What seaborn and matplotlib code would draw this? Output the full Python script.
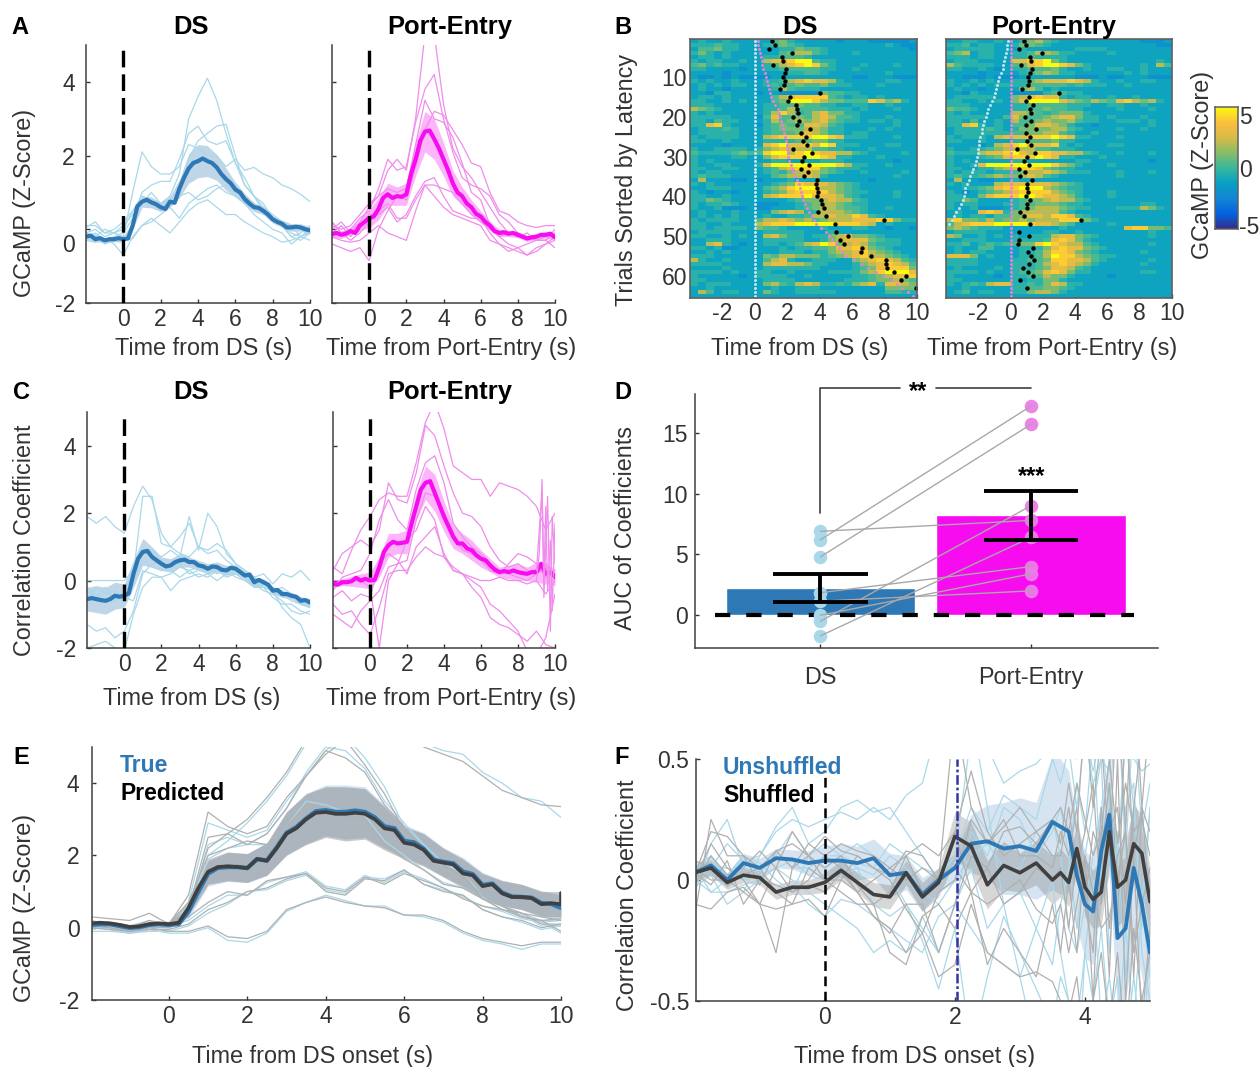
import numpy as np
import pandas as pd
import seaborn as sns
import matplotlib
matplotlib.use("Agg")
import matplotlib.pyplot as plt
from matplotlib.colors import LinearSegmentedColormap
from matplotlib.transforms import ScaledTranslation

# ---- data ----
T_GRID = [-2, -1.5, -1, -.5, 0, .5, 1, 1.5, 2, 2.5, 3, 3.5, 4, 4.5, 5, 5.5, 6, 6.5, 7, 7.5, 8, 8.5, 9, 9.5, 10]
T_FINE = np.arange(-2, 10.01, .25)

# panel A
A_DS_MEAN = [-.2, -.27, -.3, -.27, -.27, .1, .75, .73, .6, .75, 1.1, 1.65, 1.85, 1.85, 1.68, 1.36, 1.08, .82, .6, .5, .27, .15, .05, .05, -.03]
A_DS_LINE = [-.2, -.17, -.27, -.24, -.3, -.27, -.27, -.24, -.27, -.25, .1, .62, .75, .8, .73, .68, .6, .55, .75, .72, 1.1, 1.4, 1.65, 1.8, 1.85,
             1.92, 1.85, 1.8, 1.68, 1.5, 1.36, 1.25, 1.08, 1.0, .82, .7, .6, .58, .5, .4, .27, .2, .15, .05, .05, .07, .05, 0, -.03]
A_DS_SEM = [.07, .07, .07, .07, .08, .1, .15, .15, .12, .15, .25, .4, .45, .42, .35, .3, .2, .15, .12, .1, .1, .1, .1, .1, .1]
A_DS_TRACES = [
    [.05, .2, -.1, -.1, 0, .5, .9, .8, .7, .9, 1.5, 3.0, 3.6, 4.1, 3.5, 2.6, 1.8, 1.2, .9, .6, .4, .2, .1, -.2, -.1],
    [-.1, -.2, 0, -.1, -.2, 1.0, 2.1, 1.7, 1.5, 1.5, 1.7, 2.3, 2.2, 2.0, 2.0, 1.7, 1.9, 1.6, 1.68, 1.5, 1.4, 1.2, 1.1, .95, .75],
    [-.2, -.1, -.3, -.2, -.1, .3, 1.0, 1.2, 1.3, 1.3, 1.9, 2.6, 2.8, 2.4, 2.3, 2.4, 1.8, 1.4, .9, .5, .3, .1, -.2, -.3, -.1],
    [-.1, 0, -.2, -.1, .1, .4, .7, 1.0, .7, .8, 1.1, 1.9, 2.4, 2.6, 2.8, 2.85, 2.0, 1.2, .9, .7, .3, .1, -.1, -.2, 0],
    [-.3, -.35, -.25, -.4, -.7, -.2, .1, .2, .4, .6, .3, .7, .9, 1.1, 1.2, 1.0, .9, .7, .4, .2, 0, -.1, -.4, -.2, -.3],
    [-.2, -.15, -.4, -.3, -.3, -.25, .1, .3, .1, -.1, .2, .5, .7, .8, .6, .4, .4, .2, .05, -.1, -.2, -.35, -.3, -.2, -.05],
    [.1, .1, -.1, 0, .2, .5, .75, .8, .5, .7, .9, 1.0, .8, .9, 1.1, 1.2, 1.0, .9, .7, .5, .3, .1, -.2, -.1, .1],
]
A_PE_MEAN = [-.13, -.15, -.05, .1, .3, .55, .95, .9, .95, 1.9, 2.65, 2.45, 1.9, 1.25, .9, .6, .35, .1, -.1, -.12, -.15, -.25, -.2, -.15, -.22]
A_PE_LINE = [-.13, -.1, -.15, -.12, -.05, -.1, .1, .2, .3, .35, .55, .85, .95, .85, .9, .88, .95, 1.5, 1.9, 2.4, 2.65, 2.68, 2.45, 2.2, 1.9,
             1.6, 1.25, 1.0, .9, .7, .6, .42, .35, .2, .1, -.05, -.1, -.08, -.12, -.1, -.15, -.2, -.25, -.22, -.2, -.15, -.15, -.12, -.22]
A_PE_SEM = [.1, .1, .1, .15, .25, .3, .3, .25, .3, .45, .55, .55, .45, .35, .25, .2, .15, .12, .1, .08, .08, .08, .08, .08, .08]
A_PE_TRACES = [
    [0, .2, -.1, .2, .6, .9, 1.6, 1.9, 1.6, 3.0, 5.3, 5.3, 3.4, 2.2, 1.7, 1.4, 1.0, .6, .2, -.1, -.2, -.1, -.3, -.3, -.5],
    [.2, -.1, 0, .3, .5, 1.1, 1.9, 1.6, 1.7, 2.9, 3.8, 4.2, 3.0, 2.1, 1.4, 1.2, 1.1, .9, .4, .2, -.1, -.2, -.3, -.3, -.1],
    [.1, 0, .1, .4, .7, .9, 1.1, 1.0, 1.1, 2.3, 3.5, 3.0, 2.9, 2.5, 1.8, 1.0, .8, .1, -.2, -.4, -.5, -.7, -.6, -.4, -.3],
    [-.4, -.5, -.6, -.5, -.85, 0, .5, .9, .8, 1.7, 2.7, 3.2, 3.1, 2.7, 2.3, 1.8, 1.7, 1.0, .5, .4, .2, .1, .05, .1, .1],
    [-.1, .1, -.2, .1, .4, .4, .6, .2, .4, .9, 1.3, 1.4, .9, .5, .4, .3, .3, -.1, -.4, -.5, -.6, -.7, -.5, -.4, -.2],
    [.2, -.1, -.3, -.1, .2, .5, .7, .3, .3, .8, 1.2, 1.2, 1.1, 1.0, .7, .4, .2, 0, -.2, -.1, -.2, -.2, -.3, -.2, -.1],
    [-.2, -.3, -.35, -.3, -.1, .1, -.1, -.2, -.3, .5, 1.2, .9, .6, .4, .3, .2, .1, -.3, -.4, -.6, -.5, -.4, -.3, -.3, 0],
]

# panel B, digits index HEAT_LEVELS, 4 columns per group = 2 s
HEAT_LEVELS = [-2.6, -1.9, -1.05, -.35, .3, 1.0, 2.0, 3, 4, 5]
B_DS_ROWS = [
    "2322 3222 2245 3222 2212 2211 1112", "3334 3322 2345 4322 2222 2222 3211", "2445 3322 2223 3544 3222 2222 2221",
    "3532 3222 2224 5664 3222 3222 2222", "2332 3222 2334 4432 2222 2222 2222", "3233 2232 2677 8994 3322 2222 2222",
    "4534 3322 2346 7898 5322 2322 2322", "3322 2212 2334 4444 3322 3222 2222", "2222 1222 2222 3344 3222 2222 3222",
    "2112 1211 1122 2222 2222 1122 2111", "3232 2322 2334 6787 7632 2222 3322", "2323 2332 2343 4544 5333 2223 2222",
    "2322 1222 2236 4333 2222 2222 2222", "2213 3222 1221 1111 5443 3222 2222", "2332 3222 2246 7888 8432 3323 2222",
    "3322 3232 2245 9998 6554 4487 5632", "3332 2222 2334 4544 3322 3322 3222", "6543 2222 2334 6444 4333 2322 2322",
    "3232 2222 2368 6346 7553 3222 2222", "3333 3222 1474 4546 7644 3222 3222", "3324 3322 2364 5656 7543 3233 2322",
    "3378 3222 1345 4477 6432 2222 2322", "2333 4322 2345 5566 5332 2232 3222", "2333 3322 2344 4576 5332 3322 2222",
    "3233 3322 2678 8889 9873 3322 2322", "3322 3222 2333 3445 5332 2222 2222", "2222 1222 2789 7787 9833 3222 3322",
    "3223 3332 3567 6664 4332 2232 2222", "4333 3454 4899 6898 7766 4322 2232", "3222 2332 2578 8899 8733 2223 2222",
    "3232 2222 2233 2222 3332 2222 2122", "3223 3222 3799 9999 9986 3322 3222", "3322 3322 2346 7888 5433 3222 2222",
    "3233 2222 2343 5676 5432 2322 2232", "3433 3222 2245 6676 3222 2222 2322", "2622 2112 1222 3222 2222 2212 2222",
    "3232 2222 2234 5877 7654 3222 2222", "2233 3222 2456 8999 6654 3222 2222", "3212 2122 2345 7888 8654 3322 2322",
    "3322 3222 2678 8897 7764 3222 2322", "3354 3222 2222 3455 6766 4322 2222", "3233 4322 1112 2345 6654 3322 2222",
    "3223 1112 1122 2345 6654 4322 3222", "2322 2322 2256 7633 6665 4322 2222", "2323 2322 2322 3346 6766 8743 2222",
    "3233 3322 4667 6564 5666 7778 8533", "3322 3222 6788 8999 9988 8762 3222", "3323 3332 5443 2222 3222 3322 1221",
    "2333 3222 2333 3322 2322 2222 2222", "3322 3232 2675 3323 3567 5543 2222", "2233 3222 2333 3322 3567 7754 3322",
    "2267 3212 2332 3467 9856 7643 3322", "3323 1122 2223 2334 4577 8754 3222", "2232 3222 2223 3323 3566 7865 4322",
    "3332 2222 2546 6555 3456 7866 5432", "6322 3222 2467 3223 3322 5678 7643", "3333 2222 2677 6653 3222 3567 8764",
    "2222 3222 2333 3333 2222 3457 8885", "3333 2322 3322 3222 2333 3568 9997", "3222 2212 3333 2232 2222 3345 6778",
    "3322 2222 2333 3222 2223 3345 5654", "3233 3222 2564 3676 3343 5673 7765", "2232 2222 2232 2333 2222 2222 5555",
    "2642 3322 2532 2333 3322 2222 4433", "2222 2222 2222 2222 2222 2222 2222",
]
B_PE_ROWS = [
    "2233 2232 2356 4322 2222 2222 1112", "3342 3322 3554 3222 2222 2222 2211", "2333 3322 2322 2222 3333 2222 2222",
    "4562 3322 3346 6533 2222 3222 2222", "3332 3322 3343 3332 2222 2222 2222", "2333 2222 7788 9532 2222 2222 2232",
    "6433 3322 4578 9987 5322 2222 3264", "3322 3212 3344 4532 2322 3322 3222", "2222 1222 2345 6533 2222 2232 3222",
    "2211 1211 1222 2222 1112 1122 2111", "3223 2322 3356 7778 7632 2322 3322", "3232 3233 3344 4443 4333 2232 2222",
    "2322 1222 2564 2322 2222 2222 2222", "2213 2222 1111 3443 3222 2222 2222", "2333 3322 5678 7732 3322 3223 2222",
    "3322 3232 5799 9976 5465 4786 5632", "3332 2222 3344 4443 3322 3322 3222", "5443 2222 3344 5443 3222 2322 2322",
    "3232 2222 6654 3455 5322 2222 2222", "3333 3224 7544 5677 5332 3222 3222", "3324 2232 6445 6556 4332 2333 2322",
    "3378 3232 4457 7653 2212 2222 2322", "2333 3432 3555 5664 3222 2322 3222", "2333 3333 4455 6643 2232 2222 2222",
    "3233 3267 7788 8987 3322 2322 2222", "3322 3222 3344 4533 2222 2222 2222", "2222 1267 8977 7832 3222 3322 2222",
    "3223 3456 6664 4333 2222 2222 2222", "4333 6778 9768 8776 6432 2322 2322", "3222 3457 8889 8733 2223 2222 2222",
    "3232 2222 3322 2222 3322 2222 2122", "3223 7999 9999 9865 3222 3222 2222", "3322 3356 7887 5433 2222 2222 2222",
    "3233 3233 4566 7653 3322 2322 2322", "3433 4565 5676 4322 2222 2322 2222", "2622 1122 3222 2222 2222 2222 2222",
    "3232 2267 7777 7654 3222 2222 2222", "2233 4578 8999 6543 3222 2222 2222", "3212 3456 7888 8654 3222 3222 2222",
    "3322 5788 8998 7765 3222 3222 2222", "3354 2222 3455 6766 4322 2222 2222", "3233 2223 3445 5543 3222 2222 3322",
    "3223 1112 3456 6654 3322 2333 6532", "2322 7873 5666 6643 2222 2222 2222", "2323 3244 5577 6887 4322 2222 2222",
    "6855 4645 5656 6688 8532 2222 2222", "4678 8899 9987 7654 2222 3222 2222", "5654 3332 2222 2232 2222 2278 8554",
    "2333 3222 2222 3322 3222 2222 2322", "6522 3232 3233 3677 5432 2222 2322", "2233 3222 3333 4787 5322 2222 2222",
    "3342 3434 4558 9876 6432 2222 2322", "2322 4422 2333 5787 7543 2222 2222", "2323 3222 2334 6887 5432 2222 3222",
    "7775 2322 2334 6988 6543 3222 2222", "3333 2222 3344 5887 7643 2222 2322", "3333 2222 3334 6787 6532 2222 3222",
    "2322 2232 3334 5776 4322 2222 2222", "3333 2322 3445 7875 3322 2222 3322", "3222 2212 3344 6553 2222 1222 2222",
    "3322 2222 3233 5532 2222 2222 2222", "3234 3677 3343 5763 3222 2222 2222", "2232 2222 3344 5543 2222 2222 2222",
    "2342 3322 3356 6532 2222 2222 2222", "2222 2222 2222 2222 2222 2222 2222",
]
TRIALS = list(range(1, 66))
PE_LATENCY = [.17, .2, .25, .3, .37, .42, .46, .5, .6, .7, .75, .82, .9, .95, 1.0, 1.12, 1.25, 1.4, 1.47, 1.55, 1.62, 1.7, 1.74, 1.8, 1.88, 1.95,
              1.98, 2.0, 2.03, 2.05, 2.12, 2.2, 2.3, 2.38, 2.5, 2.6, 2.7, 2.8, 2.85, 2.9, 2.95, 3.1, 3.2, 3.35, 3.5, 3.65, 3.8, 4.1, 4.4, 4.55,
              4.75, 5.0, 5.2, 5.4, 5.6, 6.1, 6.6, 7.0, 7.45, 7.9, 8.4, 8.75, 9.1, 9.45, 9.75]
LICK_DS = [1.04, 1.27, .9, 2.3, 1.65, 1.73, 1.12, 1.9, 1.88, 1.75, 1.83, 1.81, 1.58, 4.0, 2.17, 2.02, 2.52, 2.58, 2.67, 2.33, 2.73, 2.6, 3.4, 2.85,
           3.15, 2.98, 3.23, 2.38, 3.52, 3.02, 2.92, 3.33, 2.83, 3.25, 3.02, 3.85, 3.77, 3.81, 3.9, 3.83, 4.1, 4.15, 4.27, 3.9, 4.4, 7.96, 4.96,
           np.nan, 5.0, 5.77, 5.23, 5.52, 6.58, 6.56, 7.15, 8.06, 8.08, 8.13, 8.56, 9.31, 9.0, np.nan, 9.96, np.nan, np.nan]
LICK_PE = [.83, .98, .54, 1.94, 1.2, 1.25, .65, 1.3, 1.23, 1.06, 1.13, 1.08, .73, 3.0, 1.15, .94, 1.4, 1.2, 1.29, .88, 1.27, .94, 1.6, .96,
           1.23, 1.04, 1.27, .42, 1.5, 1.0, .81, 1.15, .5, .92, .6, 1.3, 1.0, 1.04, 1.06, .96, 1.2, 1.02, 1.04, .56, .83, 4.35, 1.19,
           np.nan, .54, 1.15, .52, .44, 1.42, 1.08, 1.25, 1.48, 1.17, .77, 1.1, 1.4, .58, np.nan, 1.02, np.nan, np.nan]

# panel C
C_DS_MEAN = [-.55, -.55, -.6, -.45, -.45, .2, .85, .7, .5, .45, .6, .55, .45, .35, .4, .3, .35, .15, -.05, -.05, -.3, -.4, -.45, -.6, -.65]
C_DS_LINE = [-.55, -.52, -.55, -.58, -.6, -.55, -.45, -.48, -.45, -.38, .2, .65, .85, .88, .7, .6, .5, .42, .45, .55, .6, .62, .55, .55, .45,
             .42, .35, .42, .4, .32, .3, .38, .35, .25, .15, .18, -.05, .02, -.05, -.12, -.3, -.28, -.4, -.4, -.45, -.48, -.6, -.58, -.65]
C_DS_SEM = [.35, .4, .4, .4, .35, .4, .4, .3, .2, .2, .2, .15, .15, .15, .15, .15, .12, .12, .12, .1, .1, .1, .1, .12, .12]
C_DS_TRACES = [
    [1.9, 1.7, 1.9, 1.6, 1.4, 2.2, 2.8, 2.4, 1.4, 1.0, 1.3, 1.7, 1.0, .9, 1.1, .9, .5, .3, .1, -.1, -.3, -.8, -1.1, -1.3, -2.0],
    [0, 0, 0, 0, 0, .3, .8, .9, .7, .9, .7, 1.9, .9, 2.0, 1.6, .8, .5, .3, .1, .2, -.1, .2, .1, .3, 0],
    [-.3, -.5, -.2, -.6, -.3, .2, 2.5, 2.5, 1.1, 1.0, .8, .7, 1.0, .8, .9, .6, .4, .2, -.1, -.2, -.5, -.7, -.7, -.9, -1.0],
    [-1.3, -1.5, -1.4, -1.7, -1.5, -.9, .2, .5, .6, .3, .1, .3, .4, .2, .4, .3, .1, 0, -.1, -.3, -.4, -.6, -.9, -1.0, -.9],
    [-2.0, -1.9, -1.8, -2.0, -2.1, -1.0, -.2, .1, .1, .2, .4, .3, .1, .2, 0, .2, .2, 0, -.2, -.1, -.3, -.4, -.6, -.7, -.8],
    [-.2, -.4, -.6, -.5, -.6, 0, .6, .4, .3, .4, .5, .2, .3, .4, .2, .4, .3, .1, .1, -.1, -.2, -.3, -.5, -.5, -.6],
    [-.6, -.2, -.4, -.3, -.5, -.6, .3, .2, .1, -.3, 0, .1, .2, .1, .3, .1, .2, .1, -.2, -.2, -.3, -.2, -.4, -.7, -.8],
]
C_PE_MEAN = [-.1, -.05, -.02, 0, 0, .4, 1.05, 1.1, 1.15, 2.2, 2.9, 2.6, 1.9, 1.3, 1.1, .9, .65, .45, .25, .25, .25, .2, .25, .2, .1]
C_PE_LINE = [-.1, -.12, -.05, -.05, -.02, .08, 0, .05, 0, .02, .4, .85, 1.05, 1.15, 1.1, 1.12, 1.15, 1.7, 2.2, 2.7, 2.9, 2.95, 2.6, 2.25, 1.9,
             1.6, 1.3, 1.1, 1.1, .95, .9, .75, .65, .6, .45, .32, .25, .28, .25, .3, .25, .22, .2, .25, .25, .5, .2, .25, .1]
C_PE_SEM = [.1, .1, .15, .2, .25, .3, .35, .3, .35, .4, .5, .55, .45, .35, .3, .3, .25, .2, .15, .2, .25, .2, .3, .3, .25]
C_PE_TRACES = [
    [.4, .2, .9, 1.5, 1.9, 2.4, 2.6, 2.5, 2.5, 3.5, 4.7, 5.3, 4.5, 3.4, 3.2, 3.0, 3.0, 2.5, 2.9, 2.8, 2.7, 2.5, 2.2, 1.5, 2.0],
    [.3, .8, 1.0, 1.2, 1.0, 1.5, 2.9, 2.4, 2.3, 3.2, 4.6, 4.3, 3.4, 2.6, 2.0, 1.9, 1.6, 1.0, .6, .4, .5, .3, .2, .4, .1],
    [-.3, .1, .2, .3, .8, 1.8, 2.4, 1.8, 1.5, 2.7, 3.5, 3.7, 2.9, 1.7, 1.3, 1.0, .8, .5, .3, .2, .1, 0, .2, .5, .2],
    [-1.0, -1.2, -1.4, -.9, -.6, -.3, .4, .5, .6, 1.8, 2.6, 2.5, 2.0, 1.4, .9, .8, .6, .3, .2, .5, .8, .7, .5, .1, .3],
    [0, 0, 0, 0, -.2, -2.0, 0, .5, 1.2, 1.5, 2.2, 1.8, .7, .3, .2, .1, 0, 0, .1, 0, 0, -.1, 0, -.4, 0],
    [-.5, -.3, -.6, -.4, -.5, .5, .8, .6, .2, 1.0, 1.3, 1.6, .8, .3, .2, -.2, -.5, -1.1, -1.3, -1.4, -1.6, -1.8, -1.5, -1.9, -2.0],
    [-.7, -1.0, -.9, -1.3, -1.6, -.8, .2, .3, .3, .7, 1.0, .8, .7, .4, .2, 0, -.2, -.7, -.9, -1.2, -1.5, -2.1, -2.2, -1.7, -.4],
]
C_SPIKE_T = [9, 9.15, 9.3, 9.4, 9.5, 9.6, 9.75, 9.85, 10]
C_SPIKE_1 = [0, .8, 3.0, -.5, 1.0, 2.5, -1.5, 1.9, .5]
C_SPIKE_2 = [.3, 1.5, 2.6, .1, 2.2, -.3, 1.2, -.9, 1.7]

# panel D
BAR_CATS = ["DS", "Port-Entry"]
BAR_VALUES = [2.25, 8.25]
BAR_LOW = [1.1, 6.2]
BAR_HIGH = [3.4, 10.2]
AUC_DS = [6.9, 6.2, 4.8, 1.85, 1.15, 0.0, -.5, -1.7]
AUC_PE = [7.8, 17.2, 15.7, 4.0, 2.0, 3.4, 9.0, 6.4]

# panel E
E_TRUE_MEAN = [.08, .1, 0, .08, .08, .45, 1.5, 1.68, 1.65, 1.9, 2.62, 3.02, 3.25, 3.2, 3.2, 2.8, 2.4, 2.18, 1.82, 1.55, 1.18, .97, .85, .68, .55]
E_PRED_MEAN = [.12, .12, .02, .1, .1, .55, 1.55, 1.7, 1.65, 1.9, 2.6, 3.0, 3.2, 3.15, 3.15, 2.75, 2.35, 2.15, 1.8, 1.5, 1.15, .95, .85, .65, .65]
E_TRUE_LINE = [.08, .1, .1, .05, 0, .02, .08, .1, .08, .1, .45, 1.0, 1.5, 1.66, 1.68, 1.68, 1.65, 1.9, 1.86, 2.22, 2.62, 2.78, 3.02, 3.22, 3.25,
               3.2, 3.2, 3.24, 3.2, 3.05, 2.8, 2.75, 2.4, 2.36, 2.18, 1.88, 1.82, 1.78, 1.55, 1.48, 1.18, 1.22, .97, .86, .85, .83, .68, .66, .55]
E_PRED_LINE = [.12, .14, .12, .08, .02, .04, .1, .12, .1, .14, .55, 1.1, 1.55, 1.68, 1.7, 1.68, 1.65, 1.9, 1.85, 2.2, 2.6, 2.75, 3.0, 3.18, 3.2,
               3.15, 3.15, 3.18, 3.15, 3.0, 2.75, 2.7, 2.35, 2.3, 2.15, 1.85, 1.8, 1.75, 1.5, 1.45, 1.15, 1.2, .95, .85, .85, .82, .65, .68, .65]
E_END_T = [10, 10]
E_END_PRED = [.65, .95]
E_SEM = [.07, .07, .07, .07, .08, .2, .35, .4, .4, .45, .6, .7, .7, .75, .7, .6, .45, .45, .4, .4, .35, .35, .35, .35, .35]
E_PRED_TRACES = [
    [.3, .25, .2, .4, .1, .5, 2.2, 2.6, 3.0, 3.6, 4.3, 5.2, 5.6, 5.7, 5.6, 5.6, 5.3, 5.0, 4.8, 4.6, 4.2, 3.8, 3.6, 3.4, 3.35],
    [.2, .1, 0, .2, .1, .9, 3.2, 2.8, 2.6, 2.8, 3.6, 4.2, 4.8, 5.2, 4.5, 3.7, 2.7, 2.2, 1.7, 1.4, .9, .6, .4, .3, .2],
    [0, -.05, -.1, 0, 0, .5, 2.5, 2.6, 2.3, 2.6, 3.3, 4.2, 4.9, 4.7, 4.3, 3.4, 2.8, 2.2, 1.6, 1.5, .8, .5, .4, .1, .1],
    [.1, .05, -.05, .1, .1, .7, 2.0, 2.2, 2.4, 2.3, 2.8, 3.4, 3.3, 3.1, 3.0, 2.3, 1.9, 1.6, 1.2, 1.1, .8, .6, .3, .2, .25],
    [0, .1, -.1, .1, .1, .3, .7, 1.0, .9, 1.3, 1.4, 1.5, 1.1, 1.0, 1.4, 1.2, 1.5, 1.3, 1.1, .8, .6, .5, .3, .2, -.1],
    [.1, 0, -.1, -.05, -.05, .1, .5, .7, 1.0, 1.1, 1.35, 1.5, 1.0, .9, 1.35, 1.3, 1.6, 1.2, 1.0, .9, .5, .3, .2, 0, .1],
    [.05, 0, -.1, 0, -.1, -.1, .05, -.25, -.3, -.1, .5, .7, .85, .7, .6, .55, .35, .35, .2, -.1, -.3, -.4, -.5, -.4, -.4],
]
E_TRUE_TRACES = [
    [.1, .1, .05, .2, 0, .4, 2.0, 2.4, 2.9, 3.5, 4.2, 5.1, 5.7, 5.9, 5.7, 5.6, 5.4, 5.1, 4.9, 4.8, 4.3, 4.0, 3.6, 3.5, 3.05],
    [.05, 0, -.1, .05, 0, .7, 2.9, 2.7, 2.5, 2.7, 3.5, 4.2, 4.9, 5.3, 4.7, 3.9, 2.8, 2.3, 1.8, 1.5, .9, .6, .4, .2, .2],
    [-.1, -.1, -.15, -.05, -.05, .4, 2.3, 2.5, 2.3, 2.6, 3.3, 4.3, 5.0, 4.9, 4.4, 3.5, 2.9, 2.3, 1.6, 1.5, .85, .5, .35, .05, .05],
    [.05, 0, -.1, .05, .05, .6, 1.9, 2.2, 2.3, 2.3, 2.8, 3.5, 3.4, 3.2, 3.1, 2.4, 2.0, 1.6, 1.25, 1.1, .8, .6, .3, .15, .2],
    [-.05, .05, -.15, .05, .05, .2, .6, .9, .9, 1.25, 1.4, 1.55, 1.15, 1.05, 1.45, 1.25, 1.55, 1.35, 1.1, .85, .6, .45, .25, .15, -.15],
    [.05, -.05, -.15, -.1, -.1, .05, .4, .65, 1.0, 1.05, 1.3, 1.45, 1.05, .95, 1.4, 1.35, 1.6, 1.2, 1.05, .9, .5, .3, .15, -.05, .05],
    [0, -.05, -.15, -.05, -.15, -.15, 0, -.35, -.4, -.15, .45, .7, .9, .75, .6, .6, .35, .3, .15, -.15, -.35, -.45, -.6, -.45, -.45],
]

# panel F
F_T = [-2, -1.75, -1.5, -1.25, -1, -.75, -.5, -.25, 0, .25, .5, .75, 1, 1.25, 1.5, 1.75, 2, 2.25, 2.5, 2.75, 3, 3.25, 3.5,
       3.625, 3.75, 3.875, 4, 4.125, 4.25, 4.375, 4.5, 4.625, 4.75, 4.875, 5]
F_BLUE_MEAN = [.03, .06, 0, .07, .05, .09, .085, .07, .08, .08, .07, .09, .02, .03, -.06, 0, .05, .15, .16, .13, .14, .12, .24,
               .22, .2, .02, -.1, -.13, .12, .27, -.24, -.2, .05, -.1, -.3]
F_BLUE_SEM = [.04, .04, .03, .04, .04, .04, .04, .05, .06, .07, .07, .08, .09, .07, .07, .05, .06, .12, .15, .19, .2, .2, .28,
              .28, .25, .22, .22, .22, .22, .25, .3, .3, .3, .3, .3]
F_GRAY_MEAN = [.03, .05, -.01, .02, .01, -.05, -.03, -.03, -.01, .04, -.01, -.06, -.07, .03, -.07, -.01, .18, .14, -.02, .06, .03, .07, 0,
               .03, -.01, .13, -.03, -.08, -.05, .2, -.03, 0, .15, .11, -.09]
F_GRAY_SEM = [.03, .03, .03, .03, .03, .03, .03, .03, .04, .04, .04, .05, .05, .05, .06, .06, .1, .1, .1, .1, .08, .09, .1,
              .1, .1, .1, .12, .12, .14, .14, .16, .16, .16, .16, .14]
F_BLUE_TRACES = [
    [.05, .1, 0, -.05, .1, .2, .25, .22, .25, .28, .25, .3, .25, .35, .4, .65, .9, .7, .3, -.1, -.4, -.7, -.8, -.7, -.9, -.6, -.8, -1, -.7, -.5, -.9, -.7, -.4, -.7, -.3],
    [0, .05, .15, .08, .1, .22, .3, .15, .2, .3, .33, .28, .3, .2, .1, 0, .1, .6, .55, .4, .45, .48, .55, .6, .7, .5, .6, .4, .5, .45, .7, .6, .5, .45, .48],
    [-.05, .15, .25, .05, .03, .1, .2, .1, .05, .1, .15, .1, .02, -.1, -.2, -.3, -.1, .2, .1, .3, .25, .1, .2, .3, .1, -.2, .1, .3, .5, -.3, .2, -.4, .1, -.2, .3],
    [.05, -.05, 0, .1, .07, 0, -.05, .1, .15, .1, .05, -.1, -.15, -.1, -.25, -.45, -.2, -.7, -.4, -.15, -.3, -.45, -.6, -.4, -.5, -.9, -.3, 0, -.6, -.4, -.7, -.2, -.6, -.1, -.4],
    [-.03, .02, -.1, -.05, 0, .05, 0, -.05, -.1, -.15, -.2, -.3, -.25, -.3, -.15, -.3, -.1, -.2, -.3, -.35, -.4, -.2, -.35, -.1, .05, .4, .2, .6, 0, .4, .1, .6, .3, -.1, .3],
    [.02, .05, .05, 0, .02, .05, .08, .02, 0, .02, .05, .02, .1, .05, -.05, -.1, 0, .1, .15, .05, .05, .2, .25, .1, -.2, -.3, -.1, .1, .3, .1, -.2, .3, .4, -.3, -.5],
    [0, -.05, -.05, -.02, 0, -.05, -.02, -.1, -.15, -.08, -.1, -.15, -.2, -.25, -.3, -.15, -.1, .05, -.2, -.1, -.05, -.2, 0, -.3, -.5, -.6, -.3, -.5, -.2, -.6, -.4, -.8, -.5, -.7, -.6],
    [.05, .08, .02, .1, .05, .12, .05, .05, .1, .1, .07, .05, .15, .1, .05, .02, .1, .3, .2, .35, .3, .25, .5, .4, .55, .3, .6, .45, .6, .3, .8, .1, .7, .2, .4],
]
F_GRAY_TRACES = [
    [-.15, .25, .1, .1, -.02, .12, .05, .15, .1, .15, .12, .1, .05, 0, .05, 0, .7, .3, .15, .22, .3, .2, .25, .15, .4, .2, .7, .3, .6, .1, .8, .2, .9, .3, .7],
    [0, .15, .05, 0, -.1, .05, .2, .1, .05, .1, -.02, -.1, -.05, .1, .15, .1, .2, .45, .2, .1, .15, .2, .1, .1, .3, .05, .2, .4, -.1, .2, .3, -.1, .3, .6, .5],
    [-.1, -.12, -.05, -.03, -.1, -.12, -.1, -.08, -.15, 0, -.05, -.15, -.2, -.3, -.22, -.4, -.35, -.1, -.3, -.35, -.4, -.38, -.42, -.5, -.55, -.4, -.7, -.5, -.3, -.6, -.3, -.7, -.2, -.5, -.3],
    [.03, -.02, .08, -.1, 0, -.02, -.05, -.02, -.05, .03, -.05, -.15, -.22, -.1, -.1, -.3, -.1, .1, .05, -.1, -.05, .05, 0, .05, -.2, .1, -.1, -.3, .3, -.2, .1, .2, -.4, .3, -.1],
    [.05, 0, 0, -.05, -.1, -.3, .05, .1, 0, -.05, -.1, -.1, -.3, -.35, -.15, -.1, -.2, -.05, -.35, -.2, -.3, -.4, -.1, -.3, 0, -.3, .1, -.5, .2, -.4, .5, -.5, .1, -.6, -.2],
    [.08, .05, -.02, .02, .05, -.05, -.1, .05, 0, 0, .1, .05, 0, -.12, -.22, -.05, 0, .25, .15, .25, .1, .1, .05, .2, .1, .3, -.1, .2, .1, .4, -.2, .7, .1, .3, .2],
    [-.02, .1, .02, .05, .12, .05, -.05, 0, .1, .05, -.05, 0, .05, .1, -.05, .02, .05, -.05, -.1, -.05, 0, -.12, -.18, -.1, -.3, -.1, .1, -.05, -.2, -.15, 0, .2, -.3, -.1, .05],
    [.02, .2, .18, .1, .05, .12, .15, .1, .18, .12, .1, .05, .02, .12, .1, 0, .2, -.05, .05, .2, .22, .15, .25, .3, .2, .4, .25, .1, .2, .5, .15, .4, .2, .25, .1],
]

# colours
BLUE = "#2e78b5"
LIGHT_BLUE = "#a9d8ea"
MAGENTA = "#f70cf0"
LIGHT_MAGENTA = "#f08cec"
DARK = "#404040"
GREY = "#b0b0b0"
TICK_COL = "#333333"
PARULA = [(.208, .166, .529), (.012, .388, .882), (.078, .52, .831), (.024, .627, .773), (.216, .718, .62),
          (.53, .74, .4), (.85, .73, .28), (.99, .75, .24), (.976, .984, .055)]

W, H = 1260, 1067
TICK_SIZE = 16.5
sns.set_theme(style="ticks", rc={"lines.scale_dashes": False, "axes.edgecolor": DARK, "xtick.color": TICK_COL, "ytick.color": TICK_COL,
                                 "xtick.direction": "in", "ytick.direction": "in", "axes.linewidth": 1.1, "axes.unicode_minus": False})
plt.rcParams["font.family"] = ["Liberation Sans", "DejaVu Sans"]
fig = plt.figure(figsize=(W / 100, H / 100), dpi=100, facecolor="white")
parula = LinearSegmentedColormap.from_list("parula", PARULA)


def fx(px):
    return px / W


def fy(py):
    return 1 - py / H


def make_ax(left, top, right, bottom):
    ax = fig.add_axes([fx(left), fy(bottom), (right - left) / W, (bottom - top) / H])
    return ax


def nudge(label, dx=0, dy=0):
    # moves one tick label by pixels, dy positive is down
    label.set_transform(label.get_transform() + ScaledTranslation(dx / 100, -dy / 100, fig.dpi_scale_trans))


def labels(ax, xlabel, xlab_px, ylabel=None, ylab_px=None):
    ax.set_xlabel(xlabel, fontsize=16.8, color=TICK_COL, va="center", ha="center")
    ax.xaxis.set_label_coords(fx(xlab_px[0]), fy(xlab_px[1]), transform=fig.transFigure)
    if ylabel:
        ax.set_ylabel(ylabel, fontsize=16.8, color=TICK_COL, va="center", ha="center", rotation=90)
        ax.yaxis.set_label_coords(fx(ylab_px[0]), fy(ylab_px[1]), transform=fig.transFigure)


def line(ax, t, vals, color, lw, **kw):
    sns.lineplot(x=t, y=vals, ax=ax, color=color, linewidth=lw, estimator=None, sort=False, legend=False, **kw)


def trace_panel(ax, t, traces, mean, sem, fine, thin, thick, band):
    for tr in traces:
        line(ax, t, tr, thin, 0.9)
    mean = np.array(mean)
    sem = np.array(sem)
    ax.fill_between(t, mean - sem, mean + sem, color=band, alpha=0.3, lw=0)
    line(ax, T_FINE, fine, thick, 3.0)


def style(ax, xticks, xlim, ylim, yticks, ypad=8, ylabs=True):
    ax.set_xlim(*xlim)
    ax.set_ylim(*ylim)
    ax.set_xticks(xticks)
    ax.set_yticks(yticks)
    ax.tick_params(axis="both", length=3, width=1, labelsize=TICK_SIZE)
    ax.tick_params(axis="x", pad=3.5)
    ax.tick_params(axis="y", pad=ypad, labelleft=ylabs)
    sns.despine(ax=ax)


def zero_dash(ax):
    ax.axvline(0, color="black", lw=2.4, dashes=(12, 5), zorder=5)


TICKS_10 = [0, 2, 4, 6, 8, 10]

# ---- A ----
ax = make_ax(86, 45, 310, 303)
trace_panel(ax, T_GRID, A_DS_TRACES, A_DS_MEAN, A_DS_SEM, A_DS_LINE, LIGHT_BLUE, BLUE, BLUE)
zero_dash(ax)
style(ax, TICKS_10, (-2, 10), (-2, 5), [-2, 0, 2, 4])
nudge(ax.get_yticklabels()[1], dy=14)
labels(ax, "Time from DS (s)", (204, 349), "GCaMP (Z-Score)", (25, 203))

ax = make_ax(332, 45, 555, 303)
trace_panel(ax, T_GRID, A_PE_TRACES, A_PE_MEAN, A_PE_SEM, A_PE_LINE, LIGHT_MAGENTA, MAGENTA, MAGENTA)
zero_dash(ax)
style(ax, TICKS_10, (-2, 10), (-2, 5), [-2, 0, 2, 4], ylabs=False)
labels(ax, "Time from Port-Entry (s)", (451, 349))

# ---- B ----
cax = fig.add_axes([fx(1215), fy(229), 23 / W, 122 / H])


def heat_matrix(rows):
    return pd.DataFrame([[HEAT_LEVELS[int(c)] for c in r.replace(" ", "")] for r in rows])


def heat_panel(left, right, rows, lick, ds_x, pe_x, with_bar):
    ax = make_ax(left, 39, right, 298)
    if with_bar:
        sns.heatmap(heat_matrix(rows), ax=ax, cmap=parula, vmin=-5, vmax=5, cbar=True, cbar_ax=cax, xticklabels=False, yticklabels=False)
    else:
        sns.heatmap(heat_matrix(rows), ax=ax, cmap=parula, vmin=-5, vmax=5, cbar=False, xticklabels=False, yticklabels=False)
    rows_y = np.array(TRIALS) - 0.5
    to_col = lambda t: (np.array(t) + 4) / 0.5
    # round dots keep a gap between rows, squares ran together into a solid line
    sns.scatterplot(x=to_col(ds_x), y=rows_y, ax=ax, color="#c8e6f0", s=4.5, marker="o", linewidth=0, legend=False)
    sns.scatterplot(x=to_col(pe_x), y=rows_y, ax=ax, color="#ea7fe0", s=4.5, marker="o", linewidth=0, legend=False)
    sns.scatterplot(x=to_col(lick), y=rows_y, ax=ax, color="black", s=10, linewidth=0, legend=False)
    ax.set_xlim(0, 28)
    ax.set_ylim(65, 0)
    ax.set_xticks(to_col([-2, 0, 2, 4, 6, 8, 10]))
    ax.set_xticklabels(["-2", "0", "2", "4", "6", "8", "10"])
    ax.set_yticks(np.array([10, 20, 30, 40, 50, 60]) - 0.5)
    ax.set_yticklabels(["10", "20", "30", "40", "50", "60"], rotation=0)
    ax.tick_params(axis="both", length=3, width=1, labelsize=TICK_SIZE)
    ax.tick_params(axis="x", pad=3)
    ax.tick_params(axis="y", pad=2, labelleft=with_bar)
    for sp in ax.spines.values():
        sp.set_visible(True)
        sp.set_color("#606060")
        sp.set_linewidth(1.2)
    return ax


ax = heat_panel(690, 917, B_DS_ROWS, LICK_DS, [0] * 65, PE_LATENCY, True)
ax = heat_panel(946, 1172, B_PE_ROWS, LICK_PE, -np.array(PE_LATENCY), [0] * 65, False)
for txt, px, py, rot in [("Time from DS (s)", 800, 349, 0), ("Time from Port-Entry (s)", 1052, 349, 0), ("Trials Sorted by Latency", 627, 180, 90)]:
    fig.text(fx(px), fy(py), txt, fontsize=16.8, color=TICK_COL, ha="center", va="center", rotation=rot)

cax.set_yticks([-5, 0, 5])
cax.set_yticklabels(["-5", "0", "5"])
cax.tick_params(axis="y", right=True, length=0, labelsize=TICK_SIZE, pad=1, direction="in")
nudge(cax.get_yticklabels()[0], dy=-4)
nudge(cax.get_yticklabels()[2], dy=8)
cax.yaxis.set_label_position("left")
cax.set_ylabel("GCaMP (Z-Score)", fontsize=16.8, color=TICK_COL, va="center", ha="center")
cax.yaxis.set_label_coords(fx(1203), fy(165), transform=fig.transFigure)
for sp in cax.spines.values():
    sp.set_visible(True)
    sp.set_color("#606060")

# ---- C ----
ax = make_ax(87, 412, 310, 648)
trace_panel(ax, T_GRID, C_DS_TRACES, C_DS_MEAN, C_DS_SEM, C_DS_LINE, LIGHT_BLUE, BLUE, BLUE)
zero_dash(ax)
style(ax, TICKS_10, (-2, 10), (-2, 5), [-2, 0, 2, 4])
labels(ax, "Time from DS (s)", (192, 699), "Correlation Coefficient", (25, 540))

ax = make_ax(333, 412, 555, 648)
trace_panel(ax, T_GRID, C_PE_TRACES, C_PE_MEAN, C_PE_SEM, C_PE_LINE, LIGHT_MAGENTA, MAGENTA, MAGENTA)
line(ax, C_SPIKE_T, C_SPIKE_1, LIGHT_MAGENTA, 0.9)
line(ax, C_SPIKE_T, C_SPIKE_2, LIGHT_MAGENTA, 0.9)
zero_dash(ax)
style(ax, TICKS_10, (-2, 10), (-2, 5), [-2, 0, 2, 4], ylabs=False)
labels(ax, "Time from Port-Entry (s)", (451, 699))

# ---- D ----
ax = make_ax(695, 394, 1158, 648)
sns.barplot(x=BAR_CATS, y=BAR_VALUES, hue=BAR_CATS, palette=[BLUE, MAGENTA], width=0.9, saturation=1, legend=False, ax=ax)
ax.plot([-.5, 1.49], [0, 0], color="black", lw=3, dashes=(11, 11.5), zorder=3)
sns.scatterplot(x=[0] * 8, y=AUC_DS, ax=ax, color=LIGHT_BLUE, s=95, linewidth=0, legend=False, zorder=4)
sns.scatterplot(x=[1] * 8, y=AUC_PE, ax=ax, color="#ea7fe6", s=95, linewidth=0, legend=False, zorder=4, alpha=0.95)
for a, b in zip(AUC_DS, AUC_PE):
    ax.plot([0, 1], [a, b], color="#a8a8a8", lw=1, zorder=5)
for i in range(2):
    ax.plot([i, i], [BAR_LOW[i], BAR_HIGH[i]], color="black", lw=2.8, zorder=6, solid_capstyle="butt")
    ax.plot([i - .225, i + .225], [BAR_LOW[i]] * 2, color="black", lw=2.8, zorder=6, solid_capstyle="butt")
    ax.plot([i - .225, i + .225], [BAR_HIGH[i]] * 2, color="black", lw=2.8, zorder=6, solid_capstyle="butt")
ax.plot([0, 0, .38], [8.4, 18.7, 18.7], color=DARK, lw=1.2, clip_on=False)
ax.plot([.55, 1], [18.7, 18.7], color=DARK, lw=1.2, clip_on=False)
ax.set_xlim(-.596, 1.604)
ax.set_ylim(-2.7, 18.2)
ax.set_yticks([0, 5, 10, 15])
ax.tick_params(axis="both", length=3, width=1, labelsize=16.8)
ax.tick_params(axis="y", labelsize=TICK_SIZE, pad=5)
ax.tick_params(axis="x", pad=13)
sns.despine(ax=ax)
labels(ax, "", (920, 700), "AUC of Coefficients", (626, 528))

# ---- E ----
ax = make_ax(92, 747, 561, 1000)
for tr in E_TRUE_TRACES:
    line(ax, T_GRID, tr, LIGHT_BLUE, 0.9)
for tr in E_PRED_TRACES:
    line(ax, T_GRID, tr, GREY, 0.9)
ax.fill_between(T_GRID, np.array(E_TRUE_MEAN) - np.array(E_SEM), np.array(E_TRUE_MEAN) + np.array(E_SEM), color=BLUE, alpha=0.2, lw=0)
ax.fill_between(T_GRID, np.array(E_PRED_MEAN) - np.array(E_SEM), np.array(E_PRED_MEAN) + np.array(E_SEM), color="#606060", alpha=0.35, lw=0)
line(ax, T_FINE, E_TRUE_LINE, BLUE, 3.2)
line(ax, T_FINE, E_PRED_LINE, DARK, 2.6)
line(ax, E_END_T, E_END_PRED, DARK, 2.6)
style(ax, TICKS_10, (-1.96, 10), (-2, 5), [-2, 0, 2, 4], ypad=9)
labels(ax, "Time from DS onset (s)", (313, 1056), "GCaMP (Z-Score)", (25, 908))

# ---- F ----
ax = make_ax(696, 759, 1150, 1001)
for tr in F_BLUE_TRACES:
    line(ax, F_T, tr, LIGHT_BLUE, 0.9)
for tr in F_GRAY_TRACES:
    line(ax, F_T, tr, GREY, 0.9)
ax.fill_between(F_T, np.array(F_BLUE_MEAN) - np.array(F_BLUE_SEM), np.array(F_BLUE_MEAN) + np.array(F_BLUE_SEM), color=BLUE, alpha=0.2, lw=0)
ax.fill_between(F_T, np.array(F_GRAY_MEAN) - np.array(F_GRAY_SEM), np.array(F_GRAY_MEAN) + np.array(F_GRAY_SEM), color="#606060", alpha=0.25, lw=0)
line(ax, F_T, F_BLUE_MEAN, BLUE, 2.8)
line(ax, F_T, F_GRAY_MEAN, DARK, 2.6)
ax.plot([0, 0], [-.5, .45], color="black", lw=1.8, dashes=(7, 4), zorder=5)
ax.plot([2.03, 2.03], [-.5, .5], color="#3535a0", lw=1.8, dashes=(7, 2, 2, 2), zorder=5)
style(ax, [0, 2, 4], (-1.98, 5), (-.5, .5), [-.5, 0, .5], ypad=5)
ax.set_yticklabels(["-0.5", "0", "0.5"])
labels(ax, "Time from DS onset (s)", (915, 1056), "Correlation Coefficient", (627, 895))

# ---- text that sits outside the axes ----
for txt, px, py in [("A", 20, 27), ("B", 623, 27), ("C", 21, 392), ("D", 623, 392), ("E", 21, 758), ("F", 622, 758)]:
    fig.text(fx(px), fy(py), txt, fontsize=17, fontweight="bold", color="black", ha="center", va="center")
for txt, px, py in [("DS", 191, 27), ("Port-Entry", 450, 27), ("DS", 800, 27), ("Port-Entry", 1054, 27), ("DS", 191, 392), ("Port-Entry", 450, 392)]:
    fig.text(fx(px), fy(py), txt, fontsize=18.4, fontweight="bold", color="black", ha="center", va="center")
fig.text(fx(918), fy(392), "**", fontsize=17, fontweight="bold", color="black", ha="center", va="center")
fig.text(fx(1032), fy(477), "***", fontsize=17, fontweight="bold", color="black", ha="center", va="center")
fig.text(fx(120), fy(766), "True", fontsize=16.5, fontweight="bold", color=BLUE, va="center")
fig.text(fx(120), fy(793), "Predicted", fontsize=16.5, fontweight="bold", color="black", va="center")
fig.text(fx(723), fy(768), "Unshuffled", fontsize=16.5, fontweight="bold", color=BLUE, va="center")
fig.text(fx(723), fy(796), "Shuffled", fontsize=16.5, fontweight="bold", color="black", va="center")

fig.savefig("out.png", dpi=100)
